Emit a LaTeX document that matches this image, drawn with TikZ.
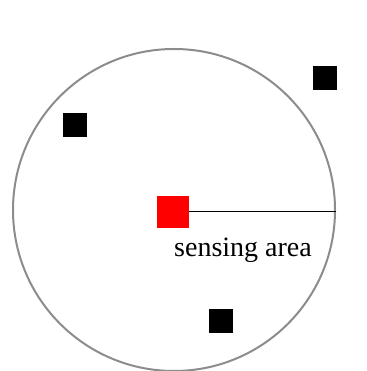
\documentclass[tikz,border=0pt]{standalone}
\usepackage{fontspec}
\setmainfont{Liberation Serif}

\begin{document}
\begin{tikzpicture}[x=1pt,y=1pt,
  sensor/.style={draw=none,fill=black,minimum size=24pt,inner sep=0pt},
  sink/.style={draw=none,fill=red,minimum size=32pt,inner sep=0pt}]
\useasboundingbox (0,0) rectangle (366,371);
\node[circle,draw=black!45,line width=2pt,minimum size=322pt,inner sep=0pt] (area) at (174,161) {};
\node[sink] (base) at (173,159) {};
\draw[line width=1pt] (base.east) -- (base.east -| area.east);
\node[sensor] (s1) at (74.5,246) {};
\node[sensor] (s2) at (325,293) {};
\node[sensor] (s3) at (221,50) {};
\node[anchor=base west,inner sep=0pt] (range) at (174,114) {\fontsize{28}{30}\selectfont sensing area};
\end{tikzpicture}
\end{document}
